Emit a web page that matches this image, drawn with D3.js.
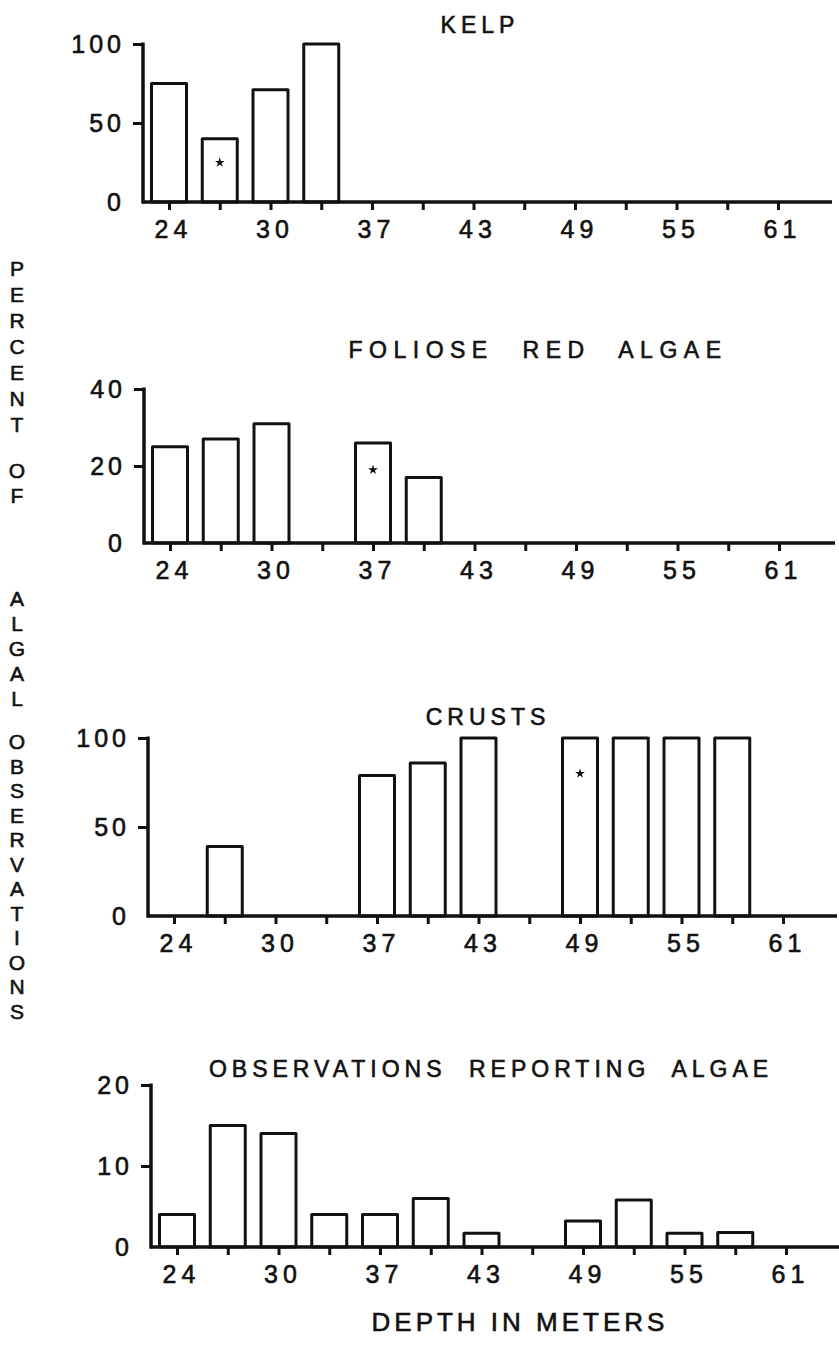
<!DOCTYPE html>
<html>
<head>
<meta charset="utf-8">
<script src="https://cdn.jsdelivr.net/npm/d3@7"></script>
<style>
  html, body { margin: 0; padding: 0; background: #fff; }
  svg { display: block; }
  text { font-family: "Liberation Sans", Arial, sans-serif; fill: #111; stroke: #111; stroke-width: 0.6px; }
</style>
</head>
<body>
<script>
// ---------- DATA ----------
const depthBins = [24, 27, 30, 34, 37, 40, 43, 46, 49, 52, 55, 58, 61];
const depthTickLabels = ["24", "", "30", "", "37", "", "43", "", "49", "", "55", "", "61"];

const kelp         = [75, 40, 71, 100, null, null, null, null, null, null, null, null, null];
const foliose      = [25, 27, 31, null, 26, 17, null, null, null, null, null, null, null];
const crusts       = [null, 39, null, null, 79, 86, 100, null, 100, 100, 100, 100, null];
const observations = [4, 15, 14, 4, 4, 6, 1.7, null, 3.2, 5.8, 1.7, 1.8, null];

const kelpTicks = [0, 50, 100];
const folioseTicks = [0, 20, 40];
const crustsTicks = [0, 50, 100];
const observationTicks = [0, 10, 20];

// star marks: depth bin and the value level where the star sits
const kelpStar = [27, 25];
const folioseStar = [37, 19];
const crustsStar = [49, 80];

const titles = ["KELP", "FOLIOSE RED ALGAE", "CRUSTS", "OBSERVATIONS REPORTING ALGAE"];
const yTitleWords = ["PERCENT", "OF", "ALGAL", "OBSERVATIONS"];
const xTitle = "DEPTH IN METERS";

// ---------- LAYOUT ----------
const W = 839, H = 1361;
const panels = [
  { title: titles[0], values: kelp, ticks: kelpTicks, max: 100, star: kelpStar,
    axisX: 143, top: 44, base: 202, axisEnd: 832, titleX: 480, titleY: 33, ls: 5, ws: 0 },
  { title: titles[1], values: foliose, ticks: folioseTicks, max: 40, star: folioseStar,
    axisX: 144, top: 389, base: 543, axisEnd: 835, titleX: 538, titleY: 358, ls: 6.5, ws: 16 },
  { title: titles[2], values: crusts, ticks: crustsTicks, max: 100, star: crustsStar,
    axisX: 148, top: 738, base: 916, axisEnd: 837, titleX: 488, titleY: 725, ls: 5, ws: 0 },
  { title: titles[3], values: observations, ticks: observationTicks, max: 20, star: null,
    axisX: 151, top: 1085, base: 1247, axisEnd: 839, titleX: 491, titleY: 1077, ls: 5, ws: 11 }
];
// vertical title: start y and letter pitch for each word
const yTitleLayout = [[268, 26], [470, 25], [598, 25], [741, 24.5]];

const svg = d3.select("body").append("svg").attr("width", W).attr("height", H);
const STEP = 50.75, FIRST = 26, BAR_W = 35, SW = 3;

panels.forEach(p => {
  const g = svg.append("g");
  const x = d3.scalePoint()
    .domain(depthBins)
    .range([p.axisX + FIRST, p.axisX + FIRST + STEP * (depthBins.length - 1)]);
  const y = d3.scaleLinear().domain([0, p.max]).range([p.base, p.top]);

  // bars
  const data = depthBins.map((d, i) => ({ d, v: p.values[i] })).filter(e => e.v !== null);
  g.selectAll("rect.bar").data(data).enter().append("rect")
    .attr("class", "bar")
    .attr("x", e => x(e.d) - BAR_W / 2)
    .attr("width", BAR_W)
    .attr("y", e => y(e.v))
    .attr("height", e => y(0) - y(e.v))
    .attr("fill", "#fff")
    .attr("stroke", "#111")
    .attr("stroke-width", SW)
    .attr("stroke-linejoin", "round");

  // star
  if (p.star !== null) {
    g.append("path")
      .attr("d", d3.symbol().type(d3.symbolStar).size(30)())
      .attr("transform", `translate(${x(p.star[0])},${y(p.star[1])})`)
      .attr("fill", "#111");
  }

  // x axis
  const xAxis = d3.axisBottom(x)
    .tickSize(8)
    .tickPadding(10)
    .tickFormat((d, i) => depthTickLabels[i]);
  const xg = g.append("g").attr("transform", `translate(0,${p.base})`).call(xAxis);
  xg.select(".domain").remove();
  xg.selectAll(".tick line").attr("stroke", "#111").attr("stroke-width", SW);
  xg.selectAll(".tick text")
    .attr("font-size", 25).attr("letter-spacing", 5).attr("dx", 4)
    .attr("font-family", "Liberation Sans, Arial, sans-serif").attr("fill", "#111");
  g.append("line")
    .attr("x1", p.axisX - 1).attr("x2", p.axisEnd)
    .attr("y1", p.base).attr("y2", p.base)
    .attr("stroke", "#111").attr("stroke-width", 3.5);

  // y axis
  const yAxis = d3.axisLeft(y).tickValues(p.ticks).tickSize(10).tickPadding(8).tickFormat(d3.format("d"));
  const yg = g.append("g").attr("transform", `translate(${p.axisX},0)`).call(yAxis);
  yg.select(".domain").remove();
  yg.selectAll(".tick line").attr("stroke", "#111").attr("stroke-width", SW)
    .attr("x2", d => d === 0 ? 0 : -10);
  yg.selectAll(".tick text")
    .attr("font-size", 25).attr("letter-spacing", 4)
    .attr("font-family", "Liberation Sans, Arial, sans-serif").attr("fill", "#111");
  g.append("line")
    .attr("x1", p.axisX).attr("x2", p.axisX)
    .attr("y1", p.base + 1.5).attr("y2", p.top - 1.5)
    .attr("stroke", "#111").attr("stroke-width", 3.5);

  // title
  g.append("text")
    .attr("x", p.titleX).attr("y", p.titleY)
    .attr("text-anchor", "middle")
    .attr("font-size", 23).attr("letter-spacing", p.ls).attr("word-spacing", p.ws)
    .text(p.title);
});

// vertical y title: one text element, one tspan per letter
const letters = [];
yTitleWords.forEach((w, wi) => {
  const [y0, pitch] = yTitleLayout[wi];
  w.split("").forEach((c, ci) => letters.push({ c, y: y0 + ci * pitch }));
});
svg.append("text")
  .attr("text-anchor", "middle")
  .attr("font-size", 21)
  .selectAll("tspan").data(letters).enter().append("tspan")
  .attr("x", 17).attr("y", e => e.y + 8)
  .text(e => e.c);

// x title
svg.append("text")
  .attr("x", 520).attr("y", 1331)
  .attr("text-anchor", "middle")
  .attr("font-size", 26).attr("letter-spacing", 4)
  .text(xTitle);
</script>
</body>
</html>
